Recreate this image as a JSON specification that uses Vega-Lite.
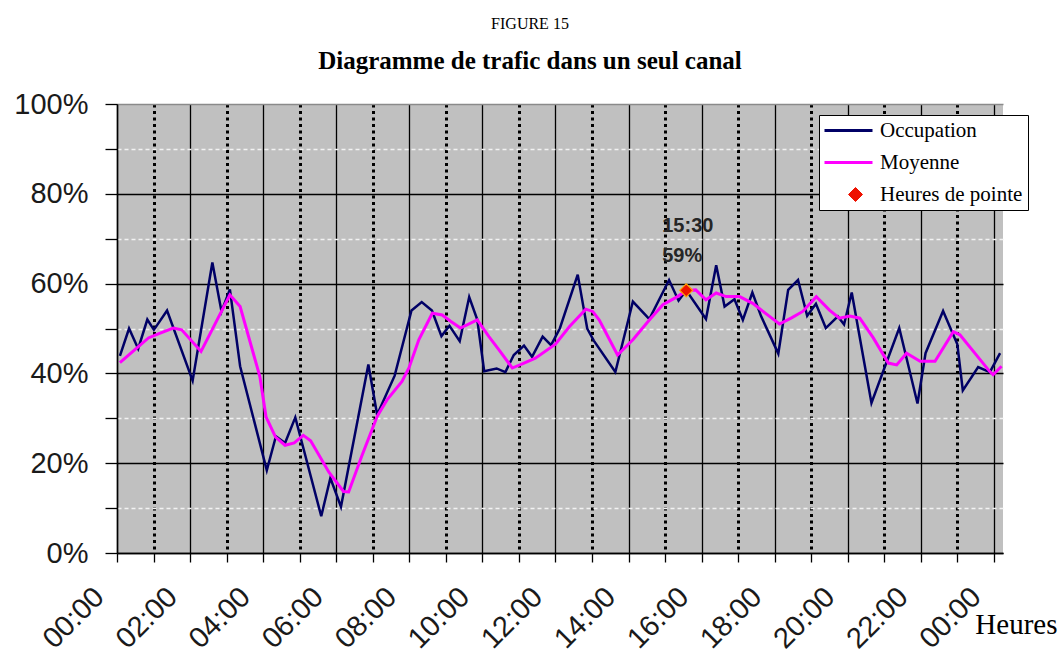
{
  "$schema": "https://vega.github.io/schema/vega-lite/v6.json",
  "width": 886,
  "height": 449,
  "autosize": {"type": "none"},
  "padding": {"left": 117, "top": 104, "right": 56, "bottom": 100},
  "background": "white",
  "config": {"view": {"fill": "#c0c0c0", "stroke": null}},
  "title": {
    "text": "FIGURE 15",
    "subtitle": "Diagramme de trafic dans un seul canal",
    "font": "Liberation Serif",
    "fontSize": 16,
    "fontWeight": "normal",
    "color": "black",
    "subtitleFont": "Liberation Serif",
    "subtitleFontSize": 25,
    "subtitleFontWeight": "bold",
    "subtitleColor": "black",
    "subtitlePadding": 17,
    "offset": 16,
    "dx": -30,
    "anchor": "middle"
  },
  "datasets": {
    "occupation": [
      {"t": 0.08, "v": 43.9, "serie": "Occupation"},
      {"t": 0.33, "v": 50, "serie": "Occupation"},
      {"t": 0.58, "v": 45.5, "serie": "Occupation"},
      {"t": 0.83, "v": 52, "serie": "Occupation"},
      {"t": 1.01, "v": 49.7, "serie": "Occupation"},
      {"t": 1.37, "v": 54, "serie": "Occupation"},
      {"t": 2.07, "v": 38.4, "serie": "Occupation"},
      {"t": 2.61, "v": 64.7, "serie": "Occupation"},
      {"t": 2.86, "v": 53.8, "serie": "Occupation"},
      {"t": 3.09, "v": 58.7, "serie": "Occupation"},
      {"t": 3.37, "v": 41.6, "serie": "Occupation"},
      {"t": 4.1, "v": 18.4, "serie": "Occupation"},
      {"t": 4.35, "v": 26, "serie": "Occupation"},
      {"t": 4.6, "v": 24.5, "serie": "Occupation"},
      {"t": 4.88, "v": 30.2, "serie": "Occupation"},
      {"t": 5.59, "v": 8.2, "serie": "Occupation"},
      {"t": 5.84, "v": 16.7, "serie": "Occupation"},
      {"t": 6.13, "v": 10.3, "serie": "Occupation"},
      {"t": 6.88, "v": 42, "serie": "Occupation"},
      {"t": 7.12, "v": 30.8, "serie": "Occupation"},
      {"t": 7.6, "v": 39.5, "serie": "Occupation"},
      {"t": 8.06, "v": 54, "serie": "Occupation"},
      {"t": 8.34, "v": 55.9, "serie": "Occupation"},
      {"t": 8.62, "v": 54, "serie": "Occupation"},
      {"t": 8.88, "v": 48.3, "serie": "Occupation"},
      {"t": 9.1, "v": 50.6, "serie": "Occupation"},
      {"t": 9.38, "v": 47.2, "serie": "Occupation"},
      {"t": 9.64, "v": 57, "serie": "Occupation"},
      {"t": 9.86, "v": 52, "serie": "Occupation"},
      {"t": 10.05, "v": 40.5, "serie": "Occupation"},
      {"t": 10.39, "v": 41.1, "serie": "Occupation"},
      {"t": 10.63, "v": 40.3, "serie": "Occupation"},
      {"t": 10.86, "v": 44.1, "serie": "Occupation"},
      {"t": 11.14, "v": 46.2, "serie": "Occupation"},
      {"t": 11.36, "v": 43.7, "serie": "Occupation"},
      {"t": 11.65, "v": 48.2, "serie": "Occupation"},
      {"t": 11.88, "v": 46.3, "serie": "Occupation"},
      {"t": 12.12, "v": 50, "serie": "Occupation"},
      {"t": 12.61, "v": 62, "serie": "Occupation"},
      {"t": 12.87, "v": 50, "serie": "Occupation"},
      {"t": 13.05, "v": 47.3, "serie": "Occupation"},
      {"t": 13.64, "v": 40.3, "serie": "Occupation"},
      {"t": 14.12, "v": 56, "serie": "Occupation"},
      {"t": 14.57, "v": 52.1, "serie": "Occupation"},
      {"t": 15.11, "v": 60.8, "serie": "Occupation"},
      {"t": 15.37, "v": 56.2, "serie": "Occupation"},
      {"t": 15.58, "v": 58.5, "serie": "Occupation"},
      {"t": 16.12, "v": 52.1, "serie": "Occupation"},
      {"t": 16.4, "v": 64.1, "serie": "Occupation"},
      {"t": 16.63, "v": 54.9, "serie": "Occupation"},
      {"t": 16.9, "v": 56.5, "serie": "Occupation"},
      {"t": 17.13, "v": 51.9, "serie": "Occupation"},
      {"t": 17.39, "v": 58, "serie": "Occupation"},
      {"t": 17.63, "v": 52.7, "serie": "Occupation"},
      {"t": 18.1, "v": 44.4, "serie": "Occupation"},
      {"t": 18.37, "v": 58.6, "serie": "Occupation"},
      {"t": 18.64, "v": 60.8, "serie": "Occupation"},
      {"t": 18.89, "v": 52.8, "serie": "Occupation"},
      {"t": 19.13, "v": 55.5, "serie": "Occupation"},
      {"t": 19.4, "v": 50.1, "serie": "Occupation"},
      {"t": 19.73, "v": 52.7, "serie": "Occupation"},
      {"t": 19.9, "v": 50.9, "serie": "Occupation"},
      {"t": 20.11, "v": 58, "serie": "Occupation"},
      {"t": 20.65, "v": 33.4, "serie": "Occupation"},
      {"t": 21.41, "v": 50.1, "serie": "Occupation"},
      {"t": 21.91, "v": 33.3, "serie": "Occupation"},
      {"t": 22.13, "v": 44.5, "serie": "Occupation"},
      {"t": 22.61, "v": 53.9, "serie": "Occupation"},
      {"t": 23.0, "v": 46.5, "serie": "Occupation"},
      {"t": 23.15, "v": 36.2, "serie": "Occupation"},
      {"t": 23.57, "v": 41.4, "serie": "Occupation"},
      {"t": 23.89, "v": 40.3, "serie": "Occupation"},
      {"t": 24.17, "v": 44.5, "serie": "Occupation"}
    ],
    "moyenne": [
      {"t": 0.08, "v": 42.4, "serie": "Moyenne"},
      {"t": 0.49, "v": 45.3, "serie": "Moyenne"},
      {"t": 0.86, "v": 47.9, "serie": "Moyenne"},
      {"t": 1.13, "v": 48.8, "serie": "Moyenne"},
      {"t": 1.54, "v": 50.1, "serie": "Moyenne"},
      {"t": 1.77, "v": 49.7, "serie": "Moyenne"},
      {"t": 2.3, "v": 44.9, "serie": "Moyenne"},
      {"t": 3.09, "v": 57.5, "serie": "Moyenne"},
      {"t": 3.37, "v": 54.9, "serie": "Moyenne"},
      {"t": 3.91, "v": 39.3, "serie": "Moyenne"},
      {"t": 4.08, "v": 30.3, "serie": "Moyenne"},
      {"t": 4.34, "v": 25.8, "serie": "Moyenne"},
      {"t": 4.6, "v": 24, "serie": "Moyenne"},
      {"t": 4.85, "v": 24.5, "serie": "Moyenne"},
      {"t": 5.1, "v": 26.2, "serie": "Moyenne"},
      {"t": 5.3, "v": 25, "serie": "Moyenne"},
      {"t": 5.8, "v": 18, "serie": "Moyenne"},
      {"t": 6.2, "v": 13.7, "serie": "Moyenne"},
      {"t": 6.34, "v": 13.6, "serie": "Moyenne"},
      {"t": 6.7, "v": 21.6, "serie": "Moyenne"},
      {"t": 7.12, "v": 30.4, "serie": "Moyenne"},
      {"t": 7.39, "v": 34.1, "serie": "Moyenne"},
      {"t": 7.8, "v": 38.2, "serie": "Moyenne"},
      {"t": 7.99, "v": 41.2, "serie": "Moyenne"},
      {"t": 8.26, "v": 47.5, "serie": "Moyenne"},
      {"t": 8.63, "v": 53.4, "serie": "Moyenne"},
      {"t": 8.9, "v": 53, "serie": "Moyenne"},
      {"t": 9.13, "v": 51.6, "serie": "Moyenne"},
      {"t": 9.4, "v": 50.1, "serie": "Moyenne"},
      {"t": 9.86, "v": 51.9, "serie": "Moyenne"},
      {"t": 10.18, "v": 48.2, "serie": "Moyenne"},
      {"t": 10.45, "v": 45.3, "serie": "Moyenne"},
      {"t": 10.82, "v": 41.2, "serie": "Moyenne"},
      {"t": 11.14, "v": 42.3, "serie": "Moyenne"},
      {"t": 11.45, "v": 43.4, "serie": "Moyenne"},
      {"t": 12.0, "v": 46.5, "serie": "Moyenne"},
      {"t": 12.38, "v": 50.4, "serie": "Moyenne"},
      {"t": 12.83, "v": 54.3, "serie": "Moyenne"},
      {"t": 13.02, "v": 53.8, "serie": "Moyenne"},
      {"t": 13.2, "v": 51.9, "serie": "Moyenne"},
      {"t": 13.7, "v": 44.1, "serie": "Moyenne"},
      {"t": 14.12, "v": 47.5, "serie": "Moyenne"},
      {"t": 14.57, "v": 51.9, "serie": "Moyenne"},
      {"t": 14.94, "v": 55.3, "serie": "Moyenne"},
      {"t": 15.34, "v": 57.1, "serie": "Moyenne"},
      {"t": 15.58, "v": 58.4, "serie": "Moyenne"},
      {"t": 15.84, "v": 58.6, "serie": "Moyenne"},
      {"t": 16.12, "v": 56.4, "serie": "Moyenne"},
      {"t": 16.4, "v": 57.9, "serie": "Moyenne"},
      {"t": 16.67, "v": 57.1, "serie": "Moyenne"},
      {"t": 17.04, "v": 57.1, "serie": "Moyenne"},
      {"t": 17.4, "v": 55.6, "serie": "Moyenne"},
      {"t": 17.86, "v": 52.7, "serie": "Moyenne"},
      {"t": 18.13, "v": 51, "serie": "Moyenne"},
      {"t": 18.45, "v": 52.3, "serie": "Moyenne"},
      {"t": 18.77, "v": 53.8, "serie": "Moyenne"},
      {"t": 19.14, "v": 57.1, "serie": "Moyenne"},
      {"t": 19.5, "v": 54.1, "serie": "Moyenne"},
      {"t": 19.77, "v": 52.3, "serie": "Moyenne"},
      {"t": 20.06, "v": 52.8, "serie": "Moyenne"},
      {"t": 20.33, "v": 52.3, "serie": "Moyenne"},
      {"t": 20.7, "v": 47.9, "serie": "Moyenne"},
      {"t": 21.11, "v": 42.3, "serie": "Moyenne"},
      {"t": 21.34, "v": 41.9, "serie": "Moyenne"},
      {"t": 21.61, "v": 44.5, "serie": "Moyenne"},
      {"t": 21.98, "v": 42.7, "serie": "Moyenne"},
      {"t": 22.39, "v": 42.7, "serie": "Moyenne"},
      {"t": 22.89, "v": 49.3, "serie": "Moyenne"},
      {"t": 23.07, "v": 48.6, "serie": "Moyenne"},
      {"t": 23.89, "v": 40.4, "serie": "Moyenne"},
      {"t": 23.98, "v": 39.7, "serie": "Moyenne"},
      {"t": 24.21, "v": 41.6, "serie": "Moyenne"}
    ],
    "pointe": [
      {"t": 15.58, "v": 58.5, "serie": "Heures de pointe", "heure": "15:30", "pct": "59%"}
    ]
  },
  "encoding": {
    "x": {
      "field": "t",
      "type": "quantitative",
      "scale": {"domain": [0, 24.25], "nice": false, "zero": false},
      "axis": {
        "values": [0, 1, 2, 3, 4, 5, 6, 7, 8, 9, 10, 11, 12, 13, 14, 15, 16, 17, 18, 19, 20, 21, 22, 23, 24],
        "labelExpr": "datum.value % 2 == 0 ? ((datum.value % 24) < 10 ? '0' : '') + (datum.value % 24) + ':00' : ''",
        "labelAngle": -45,
        "labelFont": "Liberation Sans",
        "labelFontSize": 29,
        "labelColor": "#1a1a1a",
        "labelPadding": 20,
        "labelOffset": -28,
        "labelOverlap": false,
        "labelFlush": false,
        "labelBound": false,
        "grid": true,
        "gridColor": "black",
        "gridWidth": {"condition": {"test": "datum.value % 2 == 1", "value": 3}, "value": 1.3},
        "gridDash": {"condition": {"test": "datum.value % 2 == 1", "value": [3, 3.5]}, "value": []},
        "tickColor": "black",
        "tickSize": 9,
        "tickWidth": 1.3,
        "domainColor": "black",
        "domainWidth": 1.5,
        "title": "Heures",
        "titleFont": "Liberation Serif",
        "titleFontSize": 29,
        "titleFontWeight": "normal",
        "titleColor": "black",
        "titleX": 940,
        "titleY": 80,
        "titleAlign": "right",
        "titleBaseline": "alphabetic",
        "titleAngle": 0
      }
    },
    "y": {
      "field": "v",
      "type": "quantitative",
      "scale": {"domain": [0, 100], "nice": false},
      "axis": {
        "values": [0, 10, 20, 30, 40, 50, 60, 70, 80, 90, 100],
        "labelExpr": "datum.value % 20 == 0 ? datum.value + '%' : ''",
        "labelFont": "Liberation Sans",
        "labelFontSize": 29,
        "labelColor": "#1a1a1a",
        "labelPadding": 17,
        "grid": true,
        "gridColor": {"condition": [{"test": "datum.value == 100", "value": "#8a8a8a"}, {"test": "datum.value % 20 == 0", "value": "black"}], "value": "#f2f2f2"},
        "gridDash": {"condition": {"test": "datum.value % 20 == 10", "value": [4, 3]}, "value": []},
        "gridWidth": 1.3,
        "tickColor": "black",
        "tickSize": 12,
        "tickWidth": 1.3,
        "domainColor": "black",
        "domainWidth": 1.5,
        "title": null
      }
    }
  },
  "layer": [
    {
      "data": {"name": "occupation"},
      "mark": {"type": "line", "strokeWidth": 2.5},
      "encoding": {
        "color": {
          "field": "serie",
          "type": "nominal",
          "scale": {"domain": ["Occupation", "Moyenne", "Heures de pointe"], "range": ["#000066", "#ff00ff", "#ee1100"]},
          "legend": {
            "orient": "none",
            "legendX": 702,
            "legendY": 11,
            "title": null,
            "fillColor": "white",
            "strokeColor": "black",
            "padding": 5,
            "labelFont": "Liberation Serif",
            "labelFontSize": 21,
            "labelColor": "black",
            "labelLimit": 0,
            "symbolSize": 400,
            "labelOffset": 35,
            "rowPadding": 10,
            "symbolStrokeWidth": 3,
            "encode": {
              "symbols": {
                "update": {
                  "shape": {"signal": "datum.value === 'Heures de pointe' ? 'M2.1,-0.7L2.8,0L2.1,0.7L1.4,0Z' : 'M-1,0H3.8'"},
                  "fill": {"signal": "datum.value === 'Heures de pointe' ? '#ee1100' : 'transparent'"},
                  "stroke": {"signal": "datum.value === 'Occupation' ? '#000066' : datum.value === 'Moyenne' ? '#ff00ff' : '#ffa500'"},
                  "strokeWidth": {"signal": "datum.value === 'Heures de pointe' ? 1 : 3"},
                  "opacity": {"value": 1}
                }
              }
            }
          }
        }
      }
    },
    {
      "data": {"name": "moyenne"},
      "mark": {"type": "line", "strokeWidth": 3},
      "encoding": {
        "color": {"field": "serie", "type": "nominal"}
      }
    },
    {
      "data": {"name": "pointe"},
      "mark": {"type": "point", "shape": "diamond", "filled": true, "size": 170, "stroke": "#ffa500", "strokeWidth": 1.2, "opacity": 1},
      "encoding": {
        "color": {"field": "serie", "type": "nominal"}
      }
    },
    {
      "data": {"name": "pointe"},
      "mark": {"type": "text", "align": "left", "baseline": "middle", "dx": -24, "dy": -64, "font": "Liberation Sans", "fontSize": 20, "fontWeight": "bold", "color": "#262626"},
      "encoding": {"text": {"field": "heure"}}
    },
    {
      "data": {"name": "pointe"},
      "mark": {"type": "text", "align": "left", "baseline": "middle", "dx": -24, "dy": -34, "font": "Liberation Sans", "fontSize": 20, "fontWeight": "bold", "color": "#262626"},
      "encoding": {"text": {"field": "pct"}}
    }
  ]
}
